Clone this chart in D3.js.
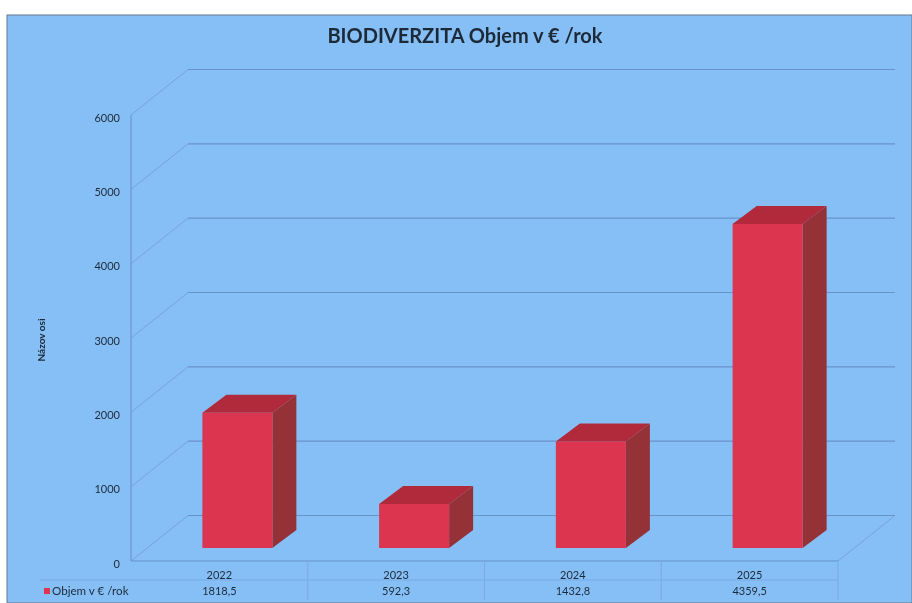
<!DOCTYPE html>
<html>
<head>
<meta charset="utf-8">
<script src="https://cdn.jsdelivr.net/npm/d3@7"></script>
<style>
  html, body { margin: 0; padding: 0; background: #fff; }
  text { font-family: Lato, "Open Sans", sans-serif; fill: #1f2a38; }
</style>
</head>
<body>
<div id="chart"></div>
<script>
// values
var years = ["2022", "2023", "2024", "2025"];
var volumes = [1818.5, 592.3, 1432.8, 4359.5];
var volumeLabels = ["1818,5", "592,3", "1432,8", "4359,5"];
var yTicks = [0, 1000, 2000, 3000, 4000, 5000, 6000];
var seriesName = "Objem v € /rok";

var width = 912, height = 603;

// front plane of the 3d box
var plot = {left: 131, right: 838, top: 115, bottom: 561};
// offset from front plane to back wall
var wall = {dx: 57, dy: -45.5};
// bar sits inside the box, with its own depth
var inset = {dx: 18, dy: -13};
var depth = {dx: 24, dy: -18};
var barWidth = 70;

var svg = d3.select("#chart")
  .append("svg")
    .attr("width", width)
    .attr("height", height)
    .style("display", "block");

var defs = svg.append("defs");
// the reference is a scan, everything is slightly soft
defs.append("filter").attr("id", "scan")
  .append("feGaussianBlur").attr("stdDeviation", 0.55);

var root = svg.append("g").attr("filter", "url(#scan)");

// background panel
root.append("rect")
  .attr("x", 7).attr("y", 15)
  .attr("width", width - 7).attr("height", height - 15)
  .attr("fill", "#85bff6")
  .attr("stroke", "#66788c")
  .attr("stroke-width", 1);

var xScale = d3.scaleBand().domain(years).range([plot.left, plot.right]);
var yScale = d3.scaleLinear().domain([0, 6000]).range([plot.bottom, plot.top]);

// side wall diagonals are fainter than the back wall lines
var sideGrid = root.append("g").attr("fill", "none").attr("stroke", "#74a3dc").attr("stroke-width", 1);
sideGrid.selectAll(".diag")
  .data(yTicks)
  .join("path")
    .attr("class", "diag")
    .attr("d", function(d) {
      var y = yScale(d);
      return d3.line()([[plot.left, y], [plot.left + wall.dx, y + wall.dy]]);
    });
sideGrid.append("path").attr("d", d3.line()([
  [plot.right, plot.bottom],
  [plot.right + wall.dx, plot.bottom + wall.dy]
]));

var grid = root.append("g").attr("fill", "none").attr("stroke", "#6a93c8").attr("stroke-width", 1.1);
grid.selectAll(".grid")
  .data(yTicks)
  .join("path")
    .attr("class", "grid")
    .attr("d", function(d) {
      var y = yScale(d) + wall.dy;
      return d3.line()([[plot.left + wall.dx, y], [plot.right + wall.dx, y]]);
    });

// floor front edge and axis line
grid.append("path").attr("d", d3.line()([
  [plot.left, plot.bottom],
  [plot.right, plot.bottom]
]));
grid.append("path").attr("d", d3.line()([
  [plot.left, plot.top],
  [plot.left, plot.bottom]
]));

// y axis labels
var yAxis = root.append("g")
  .attr("transform", "translate(" + plot.left + ",0)")
  .call(d3.axisLeft(yScale).tickValues(yTicks).tickSize(0).tickPadding(11).tickFormat(d3.format("d")));
yAxis.select(".domain").remove();
yAxis.selectAll("text")
  .attr("dy", "0.55em")
  .style("font-size", "11px")
  .style("font-family", "Lato, sans-serif");

// bars, three faces each
var barData = years.map(function(y, i) { return {year: y, value: volumes[i]}; });
var bars = root.append("g").selectAll("g")
  .data(barData)
  .join("g");

function frontLeft(d) {
  return xScale(d.year) + xScale.bandwidth() / 2 + inset.dx - barWidth / 2;
}
function frontTop(d) { return yScale(d.value) + inset.dy; }
var frontBottom = yScale(0) + inset.dy;

bars.append("path")
  .attr("fill", "#953038")
  .attr("d", function(d) {
    var r = frontLeft(d) + barWidth, t = frontTop(d);
    return d3.line()([[r, t], [r + depth.dx, t + depth.dy], [r + depth.dx, frontBottom + depth.dy], [r, frontBottom]]) + "Z";
  });
bars.append("path")
  .attr("fill", "#b02b3a")
  .attr("d", function(d) {
    var l = frontLeft(d), t = frontTop(d);
    return d3.line()([[l, t], [l + depth.dx, t + depth.dy], [l + barWidth + depth.dx, t + depth.dy], [l + barWidth, t]]) + "Z";
  });
bars.append("rect")
  .attr("fill", "#dc3450")
  .attr("x", frontLeft)
  .attr("y", frontTop)
  .attr("width", barWidth)
  .attr("height", function(d) { return frontBottom - frontTop(d); });

// data table under the chart, its lines barely show in the scan
var tableLines = root.append("g").attr("stroke", "#78abe4").attr("stroke-width", 1).attr("fill", "none");
tableLines.append("line").attr("x1", 40).attr("x2", plot.right).attr("y1", 580).attr("y2", 580);
tableLines.selectAll(".sep")
  .data(years)
  .join("line")
    .attr("class", "sep")
    .attr("x1", function(d) { return xScale(d) + xScale.bandwidth(); })
    .attr("x2", function(d) { return xScale(d) + xScale.bandwidth(); })
    .attr("y1", 562)
    .attr("y2", 600);

root.append("g").selectAll("text")
  .data(years)
  .join("text")
    .attr("x", function(d) { return xScale(d) + xScale.bandwidth() / 2; })
    .attr("y", 579)
    .attr("text-anchor", "middle")
    .style("font-size", "11px")
    .text(function(d) { return d; });

root.append("g").selectAll("text")
  .data(volumeLabels)
  .join("text")
    .attr("x", function(d, i) { return xScale(years[i]) + xScale.bandwidth() / 2; })
    .attr("y", 595)
    .attr("text-anchor", "middle")
    .style("font-size", "11px")
    .text(function(d) { return d; });

// legend key in the table
root.append("rect")
  .attr("x", 44).attr("y", 588)
  .attr("width", 6).attr("height", 6)
  .attr("fill", "#dc3450");
root.append("text")
  .attr("x", 52).attr("y", 595)
  .style("font-size", "11.6px")
  .text(seriesName);

// titles
root.append("text")
  .attr("x", 465).attr("y", 43)
  .attr("text-anchor", "middle")
  .style("font-size", "20px")
  .style("font-weight", 700)
  .text("BIODIVERZITA Objem v € /rok");

root.append("text")
  .attr("transform", "translate(45,340) rotate(-90)")
  .attr("text-anchor", "middle")
  .style("font-size", "10px")
  .style("font-weight", 700)
  .text("Názov osi");
</script>
</body>
</html>
